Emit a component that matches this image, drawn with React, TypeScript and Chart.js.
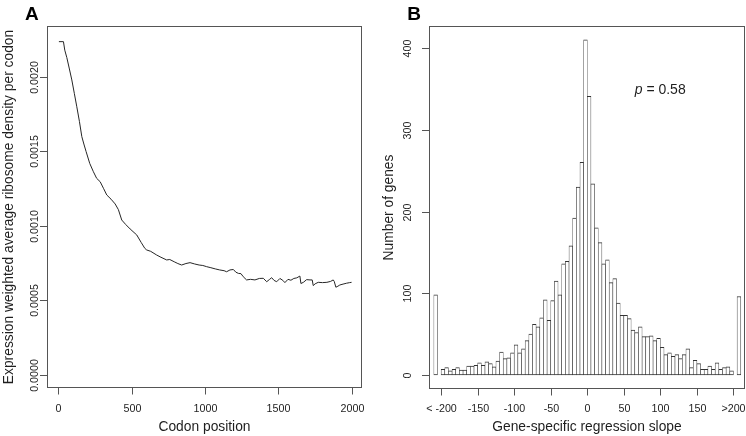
import React, { useEffect, useRef } from "react";
import { Chart, registerables } from "chart.js";
Chart.register(...registerables);

// ---------- Panel A data ----------
const codonPos = [5, 36, 45, 59, 75, 93, 110, 127, 145, 161, 175, 190, 215, 240, 262, 286, 310, 331, 360, 388, 410, 433, 460, 490, 535, 565, 590, 603, 630, 671, 700, 739, 760, 790, 815, 841, 870, 898, 930, 960, 985, 1011, 1040, 1070, 1100, 1130, 1147, 1170, 1193, 1210, 1227, 1245, 1260, 1283, 1310, 1340, 1370, 1397, 1420, 1440, 1454, 1470, 1488, 1510, 1530, 1544, 1565, 1585, 1605, 1625, 1646, 1653, 1670, 1692, 1715, 1730, 1737, 1750, 1771, 1800, 1830, 1855, 1873, 1880, 1891, 1905, 1918, 1940, 1964, 1985, 1998];
const riboDensity = [0.002237, 0.002237, 0.00218, 0.00213, 0.00206, 0.00198, 0.00189, 0.0018, 0.0017, 0.0016, 0.00155, 0.0015, 0.00142, 0.001364, 0.00132, 0.001297, 0.00125, 0.001208, 0.00118, 0.001148, 0.00111, 0.00104, 0.00101, 0.00098, 0.00094, 0.00089, 0.00085, 0.000839, 0.00083, 0.000805, 0.00079, 0.000772, 0.000775, 0.00076, 0.000748, 0.000738, 0.000748, 0.000754, 0.000745, 0.000738, 0.000735, 0.000727, 0.00072, 0.000712, 0.000705, 0.0007, 0.000693, 0.000705, 0.000708, 0.00069, 0.000682, 0.00068, 0.00066, 0.000638, 0.000642, 0.000638, 0.000648, 0.000649, 0.000626, 0.000642, 0.000653, 0.000635, 0.000626, 0.000648, 0.000635, 0.00062, 0.000642, 0.000636, 0.000648, 0.000652, 0.000664, 0.000614, 0.000622, 0.00064, 0.000638, 0.000638, 0.0006, 0.000612, 0.000622, 0.00062, 0.000622, 0.000628, 0.000638, 0.000628, 0.000589, 0.000596, 0.000604, 0.00061, 0.000616, 0.00062, 0.000622];
const aXTicks = [0, 500, 1000, 1500, 2000];
const aXTickLabels = ["0", "500", "1000", "1500", "2000"];
const aYTicks = [0, 0.0005, 0.001, 0.0015, 0.002];
const aYTickLabels = ["0.0000", "0.0005", "0.0010", "0.0015", "0.0020"];

// ---------- Panel B data ----------
const slopeBinCenters = [-207.5, -197.5, -192.5, -187.5, -182.5, -177.5, -172.5, -167.5, -162.5, -157.5, -152.5, -147.5, -142.5, -137.5, -132.5, -127.5, -122.5, -117.5, -112.5, -107.5, -102.5, -97.5, -92.5, -87.5, -82.5, -77.5, -72.5, -67.5, -62.5, -57.5, -52.5, -47.5, -42.5, -37.5, -32.5, -27.5, -22.5, -17.5, -12.5, -7.5, -2.5, 2.5, 7.5, 12.5, 17.5, 22.5, 27.5, 32.5, 37.5, 42.5, 47.5, 52.5, 57.5, 62.5, 67.5, 72.5, 77.5, 82.5, 87.5, 92.5, 97.5, 102.5, 107.5, 112.5, 117.5, 122.5, 127.5, 132.5, 137.5, 142.5, 147.5, 152.5, 157.5, 162.5, 167.5, 172.5, 177.5, 182.5, 187.5, 192.5, 197.5, 207.5];
const geneCounts = [98, 7, 9, 5, 7, 9, 6, 6, 11, 11, 12, 15, 12, 16, 14, 10, 17, 28, 20, 21, 27, 37, 27, 32, 42, 50, 62, 59, 70, 92, 67, 91, 115, 98, 136, 139, 158, 192, 230, 260, 410, 341, 234, 180, 162, 136, 141, 113, 118, 88, 73, 73, 69, 55, 52, 59, 47, 47, 48, 42, 45, 34, 25, 27, 23, 25, 20, 25, 32, 9, 18, 14, 7, 7, 11, 7, 15, 7, 9, 10, 5, 96];
const bXTicks = [-200, -150, -100, -50, 0, 50, 100, 150, 200];
const bXTickLabels = ["< -200", "-150", "-100", "-50", "0", "50", "100", "150", ">200"];
const bYTicks = [0, 100, 200, 300, 400];
const bYTickLabels = ["0", "100", "200", "300", "400"];

const FONT = "'Liberation Sans', Arial, Helvetica, sans-serif";
const TEXT = "#1e1e1e";
const FRAME = "#555";

type Decor = {
  xTicks: number[];
  xTickLabels: string[];
  yTicks: number[];
  yTickLabels: string[];
  xTitle: string;
  yTitle: string;
  letter: string;
  letterX: number;
  yTickLabelX: number;
  yTitleX: number;
  xTickLabelY: number;
  xTitleY: number;
  pValue?: { x: number; y: number };
};

function makeDecor(d: Decor) {
  return {
    id: "decor",
    afterDraw(chart: any) {
      const { ctx, chartArea, scales } = chart;
      const xs = scales.x;
      const ys = scales.y;
      const l = Math.round(chartArea.left);
      const r = Math.round(chartArea.right);
      const t = Math.round(chartArea.top);
      const b = Math.round(chartArea.bottom);
      ctx.save();
      ctx.strokeStyle = FRAME;
      ctx.lineWidth = 1;
      ctx.strokeRect(l + 0.5, t + 0.5, r - l - 1, b - t - 1);
      // x ticks
      ctx.fillStyle = TEXT;
      ctx.font = `10.7px ${FONT}`;
      ctx.textAlign = "center";
      ctx.textBaseline = "alphabetic";
      d.xTicks.forEach((v, i) => {
        const px = Math.round(xs.getPixelForValue(v)) + 0.5;
        ctx.beginPath();
        ctx.moveTo(px, b - 0.5);
        ctx.lineTo(px, b + 6.5);
        ctx.stroke();
        ctx.fillText(d.xTickLabels[i], px, d.xTickLabelY);
      });
      // y ticks
      d.yTicks.forEach((v, i) => {
        const py = Math.round(ys.getPixelForValue(v)) + 0.5;
        ctx.beginPath();
        ctx.moveTo(l - 7, py);
        ctx.lineTo(l + 0.5, py);
        ctx.stroke();
        ctx.save();
        ctx.translate(d.yTickLabelX, py);
        ctx.rotate(-Math.PI / 2);
        ctx.textAlign = "center";
        ctx.textBaseline = "middle";
        ctx.fillText(d.yTickLabels[i], 0, 0);
        ctx.restore();
      });
      // titles
      ctx.font = `13.8px ${FONT}`;
      ctx.textAlign = "center";
      ctx.textBaseline = "alphabetic";
      ctx.fillText(d.xTitle, (l + r) / 2, d.xTitleY);
      ctx.save();
      ctx.translate(d.yTitleX, (t + b) / 2);
      ctx.rotate(-Math.PI / 2);
      ctx.fillText(d.yTitle, 0, 0);
      ctx.restore();
      // panel letter
      ctx.font = `bold 19px ${FONT}`;
      ctx.textAlign = "left";
      ctx.fillStyle = "#000";
      ctx.fillText(d.letter, d.letterX, 20);
      // p value
      if (d.pValue) {
        ctx.fillStyle = TEXT;
        ctx.font = `italic 14px ${FONT}`;
        ctx.fillText("p", d.pValue.x, d.pValue.y);
        const w = ctx.measureText("p").width;
        ctx.font = `14px ${FONT}`;
        ctx.fillText(" = 0.58", d.pValue.x + w, d.pValue.y);
      }
      ctx.restore();
    },
  };
}

function PanelA() {
  const ref = useRef<HTMLCanvasElement>(null);
  useEffect(() => {
    const chart = new Chart(ref.current as HTMLCanvasElement, {
      type: "line",
      data: {
        datasets: [
          {
            data: codonPos.map((x, i) => ({ x, y: riboDensity[i] })),
            borderColor: "#262626",
            borderWidth: 1,
            pointRadius: 0,
            tension: 0,
            fill: false,
          },
        ],
      },
      options: {
        animation: false,
        responsive: false,
        devicePixelRatio: 1,
        layout: { padding: { left: 47, top: 26, right: 11, bottom: 48 } },
        plugins: { legend: { display: false }, tooltip: { enabled: false } },
        scales: {
          x: { type: "linear", min: -76, max: 2069, display: false },
          y: { type: "linear", min: -0.0000872, max: 0.002342, display: false },
        },
      },
      plugins: [
        makeDecor({
          xTicks: aXTicks,
          xTickLabels: aXTickLabels,
          yTicks: aYTicks,
          yTickLabels: aYTickLabels,
          xTitle: "Codon position",
          yTitle: "Expression weighted average ribosome density per codon",
          letter: "A",
          letterX: 25,
          yTickLabelX: 35.5,
          yTitleX: 12.5,
          xTickLabelY: 412,
          xTitleY: 430.5,
        }),
      ],
    } as any);
    return () => chart.destroy();
  }, []);
  return (
    <canvas
      ref={ref}
      width={373}
      height={436}
      style={{ position: "absolute", left: 0, top: 0, width: 373, height: 436 }}
    />
  );
}

function PanelB() {
  const ref = useRef<HTMLCanvasElement>(null);
  useEffect(() => {
    const chart = new Chart(ref.current as HTMLCanvasElement, {
      type: "bar",
      data: {
        datasets: [
          {
            data: slopeBinCenters.map((x, i) => ({ x, y: geneCounts[i] })),
            backgroundColor: "#ffffff",
            borderColor: "#333333",
            borderWidth: { top: 1, bottom: 1, left: 0.6, right: 0.6 },
            borderSkipped: false,
            barPercentage: 1,
            categoryPercentage: 1,
          },
        ],
      },
      options: {
        animation: false,
        responsive: false,
        devicePixelRatio: 1,
        layout: { padding: { left: 56, top: 26, right: 1, bottom: 47 } },
        plugins: { legend: { display: false }, tooltip: { enabled: false } },
        scales: {
          x: { type: "linear", min: -216.6, max: 215.8, offset: false, display: false },
          y: { type: "linear", min: -17.1, max: 426.9, beginAtZero: false, display: false },
        },
      },
      plugins: [
        makeDecor({
          xTicks: bXTicks,
          xTickLabels: bXTickLabels,
          yTicks: bYTicks,
          yTickLabels: bYTickLabels,
          xTitle: "Gene-specific regression slope",
          yTitle: "Number of genes",
          letter: "B",
          letterX: 34.3,
          yTickLabelX: 35,
          yTitleX: 20.4,
          xTickLabelY: 412,
          xTitleY: 431,
          pValue: { x: 261.7, y: 94.3 },
        }),
      ],
    } as any);
    return () => chart.destroy();
  }, []);
  return (
    <canvas
      ref={ref}
      width={373}
      height={436}
      style={{ position: "absolute", left: 373, top: 0, width: 373, height: 436 }}
    />
  );
}

export default function App() {
  return (
    <div
      style={{
        position: "absolute",
        left: 0,
        top: 0,
        width: 746,
        height: 436,
        background: "#ffffff",
        overflow: "hidden",
      }}
    >
      <PanelA />
      <PanelB />
    </div>
  );
}
